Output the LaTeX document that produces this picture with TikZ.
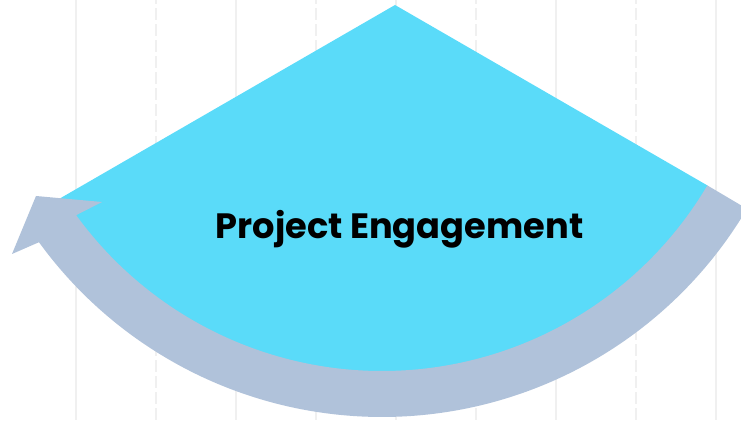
\documentclass[tikz,border=0pt]{standalone}
\usepackage{fontspec}
\setmainfont{Poppins}
\usepackage{tikz}
\definecolor{fancyan}{HTML}{5ADBF9}
\definecolor{arrowgray}{HTML}{B0C2DA}
\definecolor{gridgray}{HTML}{F0F0F0}

\begin{document}
\begin{tikzpicture}[x=1pt, y=1pt,
gridline/.style={draw=gridgray, line width=1.2pt},
fan/.style={fill=fancyan},
bandarrow/.style={fill=arrowgray},
titletext/.style={font=\fontsize{35.2}{42}\selectfont\bfseries, text=black, inner sep=0pt}]
\useasboundingbox (0,0) rectangle (741,420);
\clip (0,0) rectangle (741,420);
\foreach \x in {76,236,396,556,716} \draw[gridline] (\x,0) -- (\x,420);
\foreach \x in {156,316,476,636} \draw[gridline, dash pattern=on 12pt off 4pt] (\x,0) -- (\x,420);

\coordinate (apex) at (395,415);
\coordinate (hub) at (382,427);
\coordinate (tip) at (36,224);
\coordinate (barbl) at (12,166);
\coordinate (barbr) at (102,218);

\fill[fan] (apex) -- ++(-150:392) -- ([shift={(-146:395)}]hub)
  arc[start angle=-146, end angle=-32, radius=395] -- (707.3,234.6) -- cycle;
\fill[bandarrow] (hub) ++(-30.6:424) arc[start angle=-30.6, end angle=-144, radius=424]
  -- (barbl) -- (tip) -- (barbr) -- ([shift={(-144:378)}]hub)
  arc[start angle=-144, end angle=-30.6, radius=378] -- cycle;

\node[titletext, anchor=base] (title) at (399.5,181) {Project Engagement};
\end{tikzpicture}
\end{document}
